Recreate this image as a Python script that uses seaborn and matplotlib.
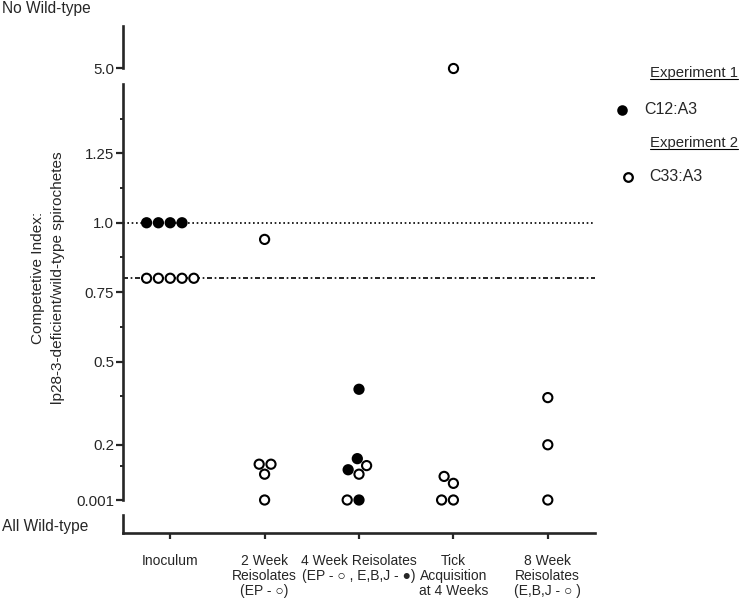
import numpy as np
import pandas as pd
import matplotlib
matplotlib.use("Agg")
import matplotlib.pyplot as plt
from matplotlib.lines import Line2D
import seaborn as sns

# categorias do eixo x
categorias = ["Inoculum", "2 Week", "4 Week", "Tick", "8 Week"]
rotulos_x = [
    "Inoculum",
    "2 Week\nReisolates\n(EP - \u25cb)",
    "4 Week Reisolates\n(EP - \u25cb , E,B,J - \u25cf)",
    "Tick\nAcquisition\nat 4 Weeks",
    "8 Week\nReisolates\n(E,B,J - \u25cb )",
]

# Experiment 1 (C12:A3) - circulos cheios
exp1_grupo = ["Inoculum", "Inoculum", "Inoculum", "Inoculum",
              "4 Week", "4 Week", "4 Week", "4 Week"]
exp1_valor = [1.0, 1.0, 1.0, 1.0,
              0.40, 0.15, 0.11, 0.001]

# Experiment 2 (C33:A3) - circulos abertos
exp2_grupo = ["Inoculum", "Inoculum", "Inoculum", "Inoculum", "Inoculum",
              "2 Week", "2 Week", "2 Week", "2 Week", "2 Week",
              "4 Week", "4 Week", "4 Week",
              "Tick", "Tick", "Tick", "Tick", "Tick",
              "8 Week", "8 Week", "8 Week"]
exp2_valor = [0.8, 0.8, 0.8, 0.8, 0.8,
              0.94, 0.13, 0.094, 0.13, 0.001,
              0.125, 0.094, 0.001,
              5.0, 0.086, 0.061, 0.001, 0.001,
              0.37, 0.2, 0.001]

ticks_y = [0.001, 0.2, 0.5, 0.75, 1.0, 1.25]
ticks_y_txt = ["0.001", "0.2", "0.5", "0.75", "1.0", "1.25"]
ticks_menores = [0.125, 0.375, 0.625, 0.875, 1.125, 1.375]

df = pd.concat([
    pd.DataFrame({"grupo": exp1_grupo, "valor": exp1_valor, "experimento": "Experiment 1"}),
    pd.DataFrame({"grupo": exp2_grupo, "valor": exp2_valor, "experimento": "Experiment 2"}),
], ignore_index=True)

sns.set_style("ticks")
plt.rcParams["font.family"] = ["Liberation Sans", "DejaVu Sans"]
plt.rcParams["font.size"] = 10

W, H = 742, 600
fig = plt.figure(figsize=(W / 100, H / 100), dpi=100)
esq = 123 / W
larg = (595 - 123) / W
ax_top = fig.add_axes([esq, 1 - 68 / H, larg, 42 / H])
ax_mid = fig.add_axes([esq, 1 - 500 / H, larg, 416 / H])
ax_bot = fig.add_axes([esq, 1 - 533 / H, larg, 18 / H])

paleta = {"Experiment 1": "black", "Experiment 2": "white"}
kw = dict(x="grupo", y="valor", hue="experimento", order=categorias,
          hue_order=["Experiment 1", "Experiment 2"], palette=paleta,
          edgecolor="black", linewidth=1.5, size=6.6, legend=False)

sns.swarmplot(data=df[df["valor"] < 2], ax=ax_mid, zorder=3, **kw)
sns.swarmplot(data=df[df["valor"] >= 2], ax=ax_top, zorder=3, **kw)

ax_mid.axhline(1.0, color="black", lw=1.2, ls=(0, (1, 1.6)), zorder=1)
ax_mid.axhline(0.8, color="black", lw=1.2, ls=(0, (3, 1.6, 1, 1.6)), zorder=1)

for ax in (ax_top, ax_mid, ax_bot):
    ax.set_xlim(-0.5, 4.5)
    ax.set_xlabel("")
    ax.set_ylabel("")
    for s in ("top", "right"):
        ax.spines[s].set_visible(False)
    ax.spines["left"].set_linewidth(1.9)
    ax.spines["bottom"].set_linewidth(1.9)
    for c in list(ax.collections):
        if len(c.get_offsets()) == 0:
            c.remove()
        else:
            c.set_clip_on(False)

for ax in (ax_top, ax_mid):
    ax.spines["bottom"].set_visible(False)
    ax.tick_params(axis="x", bottom=False, labelbottom=False)

ax_mid.set_ylim(0.001, 1.5)
ax_mid.set_yticks(ticks_y)
ax_mid.set_yticklabels(ticks_y_txt)
ax_mid.set_yticks(ticks_menores, minor=True)
ax_mid.tick_params(axis="y", which="major", length=5, width=1.6, pad=1.5, labelsize=10.8)
ax_mid.tick_params(axis="y", which="minor", length=2.5, width=1.4)

ax_top.set_ylim(5.0, 5.15)
ax_top.set_yticks([5.0])
ax_top.set_yticklabels(["5.0"])
ax_top.tick_params(axis="y", length=5, width=1.6, pad=1.5, labelsize=10.8)

ax_bot.set_ylim(0, 1)
ax_bot.set_yticks([])
ax_bot.set_xticks(range(len(categorias)))
ax_bot.set_xticklabels(rotulos_x, fontsize=10.0, linespacing=1.1)
ax_bot.tick_params(axis="x", length=4.5, width=1.6, pad=10.5)

fig.text(2 / W, 1 - 9 / H, "No Wild-type", fontsize=11.2, ha="left", va="center")
fig.text(2 / W, 1 - 527 / H, "All Wild-type", fontsize=11.2, ha="left", va="center")
fig.text(48 / W, 1 - 278 / H,
         "Competetive Index:\nlp28-3-deficient/wild-type spirochetes",
         rotation=90, ha="center", va="center", multialignment="center",
         fontsize=11.1, linespacing=1.6)

# legenda manual
titulos = []
for txt, y in (("Experiment 1", 73), ("Experiment 2", 143)):
    titulos.append(fig.text(650 / W, 1 - y / H, txt, fontsize=10.7, ha="left", va="center"))
fig.text(644 / W, 1 - 109 / H, "C12:A3", fontsize=11.5, ha="left", va="center")
fig.text(649 / W, 1 - 177 / H, "C33:A3", fontsize=11.5, ha="left", va="center")
fig.add_artist(Line2D([622 / W], [1 - 110 / H], transform=fig.transFigure, marker="o",
                      ms=6.2, mfc="black", mec="black", mew=1.4, ls="none"))
fig.add_artist(Line2D([628 / W], [1 - 177 / H], transform=fig.transFigure, marker="o",
                      ms=6.2, mfc="white", mec="black", mew=1.6, ls="none"))

fig.canvas.draw()
for t in titulos:
    bb = t.get_window_extent()
    yl = bb.y0 + 1
    fig.add_artist(Line2D([bb.x0 / W, bb.x1 / W], [yl / H, yl / H],
                          transform=fig.transFigure, color="black", lw=0.8))

fig.savefig("out.png", dpi=100)
